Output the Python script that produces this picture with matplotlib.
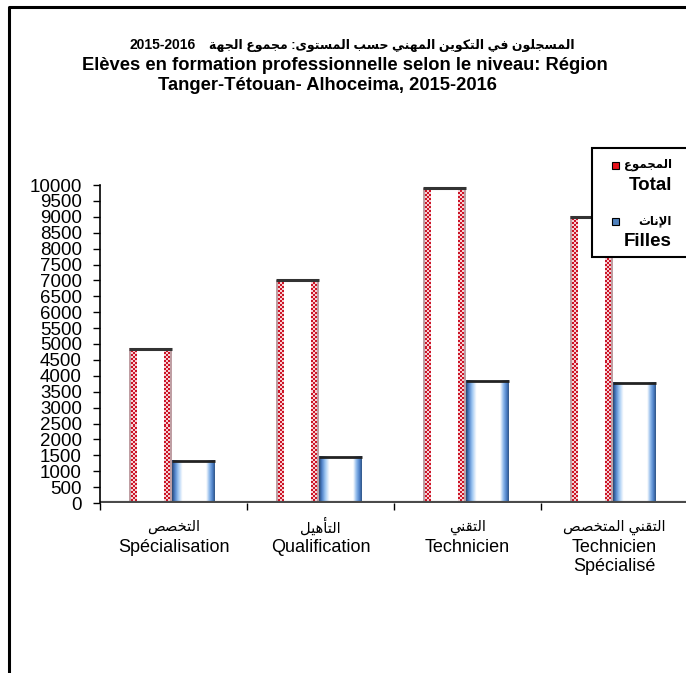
import numpy as np
import matplotlib
matplotlib.use("Agg")
import matplotlib.pyplot as plt
import matplotlib.transforms as mtransforms
from matplotlib.patches import Rectangle
from matplotlib.lines import Line2D

plt.rcParams['font.family'] = ['Liberation Sans', 'DejaVu Sans']

# data
categories_ar = ["التخصص", "التأهيل", "التقني", "التقني المتخصص"]
categories_fr = ["Spécialisation", "Qualification", "Technicien", "Technicien\nSpécialisé"]
total = [4850, 7000, 9900, 9000]
filles = [1330, 1450, 3840, 3780]
yticks = list(range(0, 10001, 500))

title_ar = "المسجلون في التكوين المهني حسب المستوى: مجموع الجهة"
title_year = "2015-2016"
title_fr_1 = "Elèves en formation professionnelle selon le niveau: Région"
title_fr_2 = "Tanger-Tétouan- Alhoceima, 2015-2016"
legend_ar = ["المجموع", "الإناث"]
legend_fr = ["Total", "Filles"]

# minimal arabic shaping (matplotlib has no bidi / joining support)
FORMS = {
    'ا': (0xFE8D, 0xFE8E, None, None), 'أ': (0xFE83, 0xFE84, None, None),
    'إ': (0xFE87, 0xFE88, None, None), 'ب': (0xFE8F, 0xFE90, 0xFE91, 0xFE92),
    'ة': (0xFE93, 0xFE94, None, None), 'ت': (0xFE95, 0xFE96, 0xFE97, 0xFE98),
    'ث': (0xFE99, 0xFE9A, 0xFE9B, 0xFE9C), 'ج': (0xFE9D, 0xFE9E, 0xFE9F, 0xFEA0),
    'ح': (0xFEA1, 0xFEA2, 0xFEA3, 0xFEA4), 'خ': (0xFEA5, 0xFEA6, 0xFEA7, 0xFEA8),
    'س': (0xFEB1, 0xFEB2, 0xFEB3, 0xFEB4), 'ص': (0xFEB9, 0xFEBA, 0xFEBB, 0xFEBC),
    'ع': (0xFEC9, 0xFECA, 0xFECB, 0xFECC), 'ف': (0xFED1, 0xFED2, 0xFED3, 0xFED4),
    'ق': (0xFED5, 0xFED6, 0xFED7, 0xFED8), 'ك': (0xFED9, 0xFEDA, 0xFEDB, 0xFEDC),
    'ل': (0xFEDD, 0xFEDE, 0xFEDF, 0xFEE0), 'م': (0xFEE1, 0xFEE2, 0xFEE3, 0xFEE4),
    'ن': (0xFEE5, 0xFEE6, 0xFEE7, 0xFEE8), 'ه': (0xFEE9, 0xFEEA, 0xFEEB, 0xFEEC),
    'و': (0xFEED, 0xFEEE, None, None), 'ى': (0xFEEF, 0xFEF0, None, None),
    'ي': (0xFEF1, 0xFEF2, 0xFEF3, 0xFEF4),
}
LAM_ALEF = {'ا': (0xFEFB, 0xFEFC), 'أ': (0xFEF7, 0xFEF8), 'إ': (0xFEF9, 0xFEFA)}


def shape(text):
    out = []
    prev_joins = False
    i = 0
    n = len(text)
    while i < n:
        c = text[i]
        if c not in FORMS:
            out.append(c)
            prev_joins = False
            i += 1
            continue
        if c == 'ل' and i + 1 < n and text[i + 1] in LAM_ALEF:
            iso, fin = LAM_ALEF[text[i + 1]]
            out.append(chr(fin if prev_joins else iso))
            prev_joins = False
            i += 2
            continue
        f = FORMS[c]
        can_next = f[2] is not None and i + 1 < n and text[i + 1] in FORMS
        if prev_joins and can_next:
            out.append(chr(f[3]))
        elif prev_joins:
            out.append(chr(f[1]))
        elif can_next:
            out.append(chr(f[2]))
        else:
            out.append(chr(f[0]))
        prev_joins = can_next
        i += 1
    return ''.join(reversed(out))


W, H = 686, 673
fig = plt.figure(figsize=(W / 100, H / 100), dpi=100)
ax_h_px = 318
ax = fig.add_axes([100 / W, (H - 503) / H, 588 / W, ax_h_px / H])

bw = 0.29
x = np.arange(len(categories_fr))


def blue_gradient(ncols=60):
    t = np.linspace(0, 1, ncols)
    pts = [0, 0.06, 0.14, 0.24, 0.80, 0.88, 0.95, 1.0]
    cols = np.array([[0.17, 0.30, 0.48], [0.30, 0.50, 0.78], [0.62, 0.78, 0.95],
                     [1, 1, 1], [1, 1, 1], [0.55, 0.72, 0.92],
                     [0.30, 0.50, 0.78], [0.20, 0.35, 0.55]])
    img = np.stack([np.interp(t, pts, cols[:, k]) for k in range(3)], axis=-1)
    return img[np.newaxis, :, :]


def red_dots(val, ncols=22):
    nrows = max(2, int(val / 10000 * ax_h_px / 2))
    r, c = np.indices((nrows, ncols))
    img = np.ones((nrows, ncols, 3))
    strip = (c < 4) | (c >= ncols - 4)
    dot = ((r + c) % 2 == 0) & strip
    img[strip] = [0.97, 0.82, 0.84]
    img[dot] = [0.80, 0.08, 0.15]
    img[:, 0] = [0.75, 0.62, 0.64]
    img[:, -1] = [0.75, 0.62, 0.64]
    return img


for i in range(len(x)):
    # total bar
    x0 = x[i] - 0.01 - bw
    ax.imshow(red_dots(total[i]), extent=(x0, x0 + bw, 0, total[i]),
              aspect='auto', interpolation='nearest', zorder=2)
    ax.plot([x0, x0 + bw], [total[i], total[i]], color='#333333', lw=2.2,
            solid_capstyle='butt', zorder=3)
    # filles bar
    x1 = x[i] - 0.01
    ax.imshow(blue_gradient(), extent=(x1, x1 + bw, 0, filles[i]),
              aspect='auto', interpolation='bilinear', zorder=2)
    ax.plot([x1, x1 + bw], [filles[i], filles[i]], color='#222222', lw=2.0,
            solid_capstyle='butt', zorder=3)

ax.set_xlim(-0.5, 3.5)
ax.set_ylim(0, 10000)

# floor
ax.axhline(0, color='#4a4a4a', lw=3, zorder=4)

for s in ['top', 'right', 'bottom']:
    ax.spines[s].set_visible(False)
ax.spines['left'].set_linewidth(1.2)
ax.spines['left'].set_zorder(5)

ax.set_yticks(yticks)
ax.set_yticklabels([str(v) for v in yticks], fontsize=13.5)
ax.tick_params(axis='y', length=5, width=1, pad=8)

ax.set_xticks(np.arange(-0.5, 4, 1.0))
ax.set_xticklabels([])
ax.tick_params(axis='x', length=5, width=1, direction='out')

# category labels: arabic line + french line(s)
trans = mtransforms.blended_transform_factory(ax.transData, fig.transFigure)
for i in range(len(x)):
    ax.text(x[i], 1 - 527 / H, shape(categories_ar[i]), transform=trans,
            ha='center', va='center', fontsize=10.5)
    ax.text(x[i], 1 - 539 / H, categories_fr[i], transform=trans,
            ha='center', va='top', fontsize=13, linespacing=1.15)

# titles
fig.text(130 / W, 1 - 45 / H, title_year, ha='left', va='center',
         fontsize=10, weight='bold')
fig.text(575 / W, 1 - 45 / H, shape(title_ar), ha='right', va='center',
         fontsize=9.0, weight='bold')
fig.text(345 / W, 1 - 66 / H, title_fr_1, ha='center', va='center',
         fontsize=13.2, weight='bold')
fig.text(327 / W, 1 - 86 / H, title_fr_2, ha='center', va='center',
         fontsize=13.2, weight='bold')

# legend box
fig.add_artist(Rectangle((592 / W, (H - 257) / H), 110 / W, 109 / H,
                         transform=fig.transFigure, facecolor='white',
                         edgecolor='black', lw=1.5, zorder=5))
leg_colors = ['#e8141c', '#4f81bd']
leg_y = [165, 221]
for k in range(2):
    y = leg_y[k]
    fig.add_artist(Rectangle((612 / W, (H - y - 4) / H), 7 / W, 7 / H,
                             transform=fig.transFigure, facecolor=leg_colors[k],
                             edgecolor='black', lw=0.8, zorder=6))
    fig.text(672 / W, 1 - y / H, shape(legend_ar[k]), ha='right', va='center',
             fontsize=8.5, weight='bold', zorder=7)
    fig.text(672 / W, 1 - (y + 20) / H, legend_fr[k], ha='right', va='center',
             fontsize=13.5, weight='bold', zorder=7)

# outer frame (top and left edges visible)
fig.add_artist(Line2D([8.5 / W, 8.5 / W, 1.01], [-0.01, 1 - 7 / H, 1 - 7 / H],
                      transform=fig.transFigure, color='black', lw=2.2))

fig.savefig("out.png", dpi=100)
